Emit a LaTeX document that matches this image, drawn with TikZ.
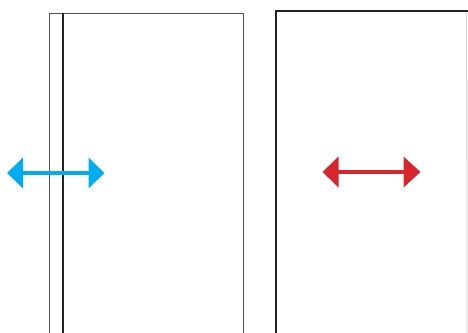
\documentclass[tikz,border=0pt]{standalone}
\usetikzlibrary{arrows.meta}
\definecolor{cyanarr}{HTML}{00AEEF}
\definecolor{redarr}{HTML}{D7262E}
\definecolor{edgegray}{HTML}{555555}
\definecolor{edgedark}{HTML}{222222}
\definecolor{edgelight}{HTML}{C8C8C8}
\tikzset{
  thinedge/.style={draw=edgegray, line width=0.8pt},
  darkedge/.style={draw=edgedark, line width=1.3pt},
  heavyedge/.style={draw=edgedark, line width=2pt, line cap=rect},
  lightedge/.style={draw=edgelight, line width=0.8pt},
  bluearrow/.style={draw=cyanarr, line width=4.5pt, {Triangle[length=16pt,width=30pt]}-{Triangle[length=16pt,width=30pt]}},
  redarrow/.style={draw=redarr, line width=4pt, {Triangle[length=16pt,width=30pt]}-{Triangle[length=17pt,width=30pt]}}
}
\begin{document}
\begin{tikzpicture}[x=1pt,y=-1pt]
\useasboundingbox (0,0) rectangle (468,332);
% left narrow sheet
\coordinate (nbl) at (49,333);
\coordinate (ntl) at (49,13.5);
\coordinate (ntr) at (63,13.5);
\draw[thinedge] (nbl) -- (ntl) -- (ntr);
% left main sheet
\coordinate (mbl) at (63,333);
\coordinate (mtl) at (63,13);
\coordinate (mtr) at (243,13);
\coordinate (mbr) at (243,333);
\draw[thinedge] (mtl) -- (mtr) -- (mbr);
\draw[darkedge] (mbl) -- (mtl);
% right sheet
\coordinate (rbl) at (276,333);
\coordinate (rtl) at (276,11);
\coordinate (rtr) at (467,11);
\coordinate (rbr) at (467,333);
\draw[heavyedge] (rbl) -- (rtl) -- (rtr);
\draw[lightedge] (466.8,12) -- (rbr);
% arrows
\coordinate (bl) at (7,173);
\coordinate (br) at (104.5,173);
\draw[bluearrow] (bl) -- (br);
\coordinate (rl) at (322.5,172);
\coordinate (rr) at (420.5,172);
\draw[redarrow] (rl) -- (rr);
\end{tikzpicture}
\end{document}
